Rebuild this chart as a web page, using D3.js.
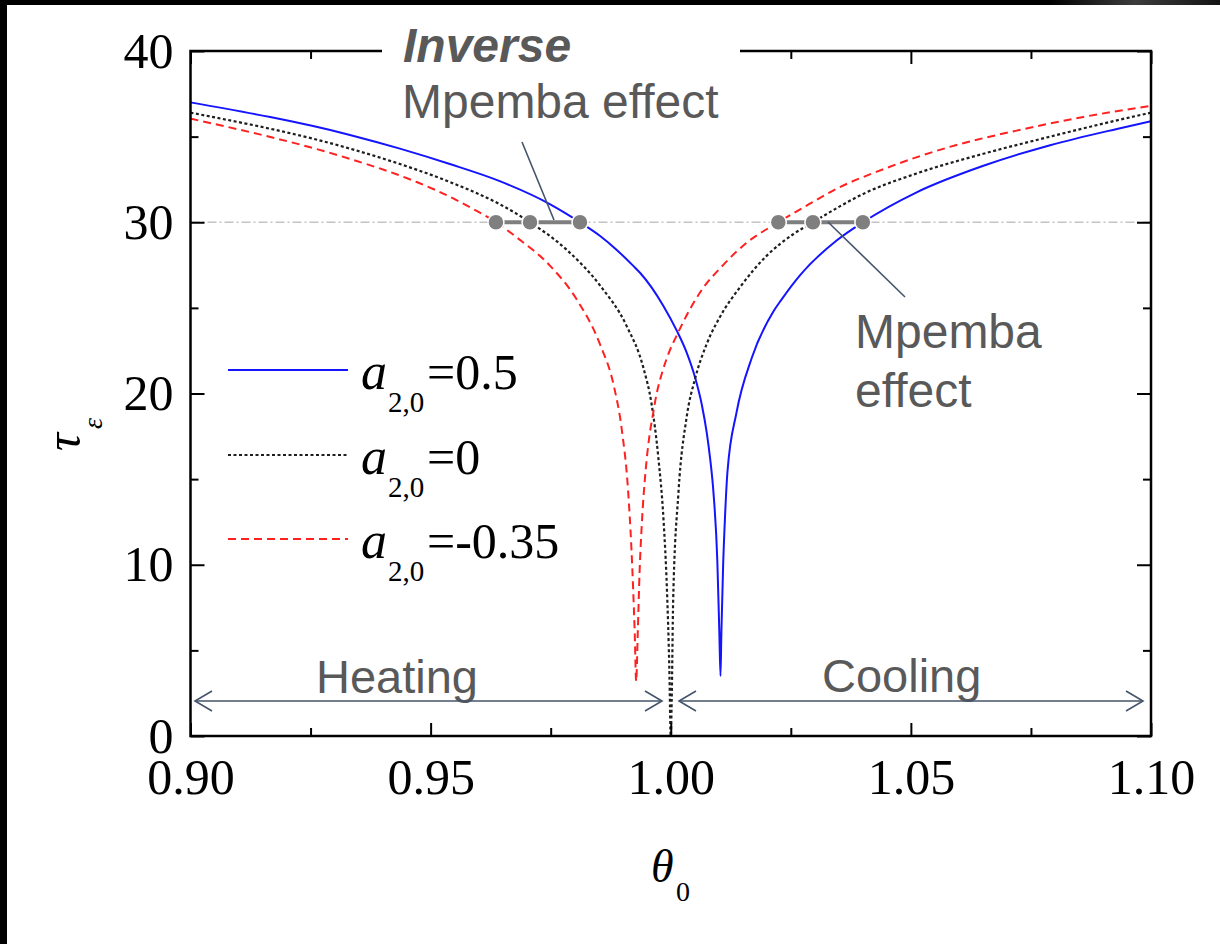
<!DOCTYPE html>
<html>
<head>
<meta charset="utf-8">
<script src="https://cdn.jsdelivr.net/npm/d3@7"></script>
<style>
  html, body { margin: 0; padding: 0; background: #fff; }
  svg { display: block; }
</style>
</head>
<body>
<svg id="chart" width="1220" height="944"></svg>
<script>
// ---------------- DATA ----------------
const xMajorTicks = [0.90, 0.95, 1.00, 1.05, 1.10];
const xMinorTicks = [0.925, 0.975, 1.025, 1.075];
const yMajorTicks = [0, 10, 20, 30, 40];
const yMinorTicks = [5, 15, 25, 35];

// a_{2,0} = 0.5 (blue, solid)
const thetaBlue = [0.9000, 0.9332, 0.9436, 0.9540, 0.9644, 0.9749, 0.9811, 0.9853, 0.9887, 0.9922, 0.9936,
  0.9960, 0.9985, 1.0012, 1.0033, 1.0051, 1.0065, 1.0075, 1.0082, 1.0089, 1.0097, 1.01012, 1.01036, 1.01054,
  1.0109, 1.0113, 1.0118, 1.0137, 1.0169, 1.0214, 1.0231, 1.0269, 1.0346, 1.0400, 1.0512, 1.0651, 1.0790,
  1.0929, 1.1000];
const tauBlue = [37.0, 35.1, 34.3, 33.4, 32.4, 31.05, 30.0, 29.2, 28.4, 27.45, 27.05,
  26.2, 25.1, 23.7, 22.4, 20.9, 19.3, 17.7, 16.2, 14.2, 10.2, 6.0, 3.5, 6.0,
  9.9, 12.8, 15.4, 18.9, 22.1, 24.8, 25.5, 26.9, 28.95, 30.0, 31.75, 33.3, 34.5,
  35.45, 35.9];

// a_{2,0} = 0 (black, dotted)
const thetaBlack = [0.9000, 0.9332, 0.9436, 0.9540, 0.9644, 0.9707, 0.9783, 0.9853, 0.9908, 0.9943, 0.9960,
  0.9974, 0.9985, 0.9992, 0.9997, 1.0000, 1.0002, 1.0005, 1.0016, 1.0033, 1.0051, 1.0075, 1.0103, 1.0144,
  1.0200, 1.0255, 1.0296, 1.0408, 1.0512, 1.0651, 1.0790, 1.0929, 1.1000];
const tauBlack = [36.4, 34.3, 33.4, 32.35, 31.05, 30.0, 28.4, 26.3, 23.95, 21.5, 19.4,
  16.3, 12.6, 8.6, 4.0, 0.0, 2.1, 7.9, 14.2, 18.6, 20.9, 22.9, 24.5, 26.2,
  28.05, 29.3, 30.0, 31.75, 32.85, 34.0, 35.0, 35.95, 36.4];

// a_{2,0} = -0.35 (red, dashed)
const thetaRed = [0.9000, 0.9332, 0.9429, 0.9471, 0.9550, 0.9590, 0.9636, 0.9680, 0.9749, 0.9804, 0.9853,
  0.9881, 0.9898, 0.9911, 0.9918, 0.9925, 0.9928, 0.99313, 0.9935, 0.9940, 0.9948, 0.9955, 0.9963, 0.9970,
  0.9984, 0.9991, 1.0016, 1.0061, 1.0109, 1.0158, 1.0224, 1.0297, 1.0338, 1.0443, 1.0581, 1.0720, 1.0859, 1.1000];
const tauRed = [36.05, 33.7, 32.8, 32.35, 31.35, 30.75, 30.0, 29.1, 27.45, 25.5, 22.85,
  20.5, 17.9, 14.4, 11.0, 6.0, 3.2, 6.0, 9.5, 12.5, 15.6, 17.4, 18.8, 19.9,
  21.4, 22.0, 23.6, 25.9, 27.5, 28.8, 30.0, 31.2, 31.85, 33.1, 34.4, 35.35, 36.15, 36.8];

// Mpemba crossing points at tau = 30
const mpembaTau = 30;
const heatingCross = [0.9636, 0.9707, 0.9811];
const coolingCross = [1.0224, 1.0296, 1.0400];

const legendLabels = ["=0.5", "=0", "=-0.35"];

// ---------------- CHART ----------------
const svg = d3.select("#chart");
const W = 1220, H = 944;
const L = 190.5, R = 1151, T = 51, B = 736;

const x = d3.scaleLinear().domain([0.90, 1.10]).range([L, R]);
const y = d3.scaleLinear().domain([0, 40]).range([B, T]);

const serif = "'Liberation Serif','Times New Roman',Times,serif";
const sans = "'Liberation Sans',Arial,Helvetica,sans-serif";
const annoGrey = "#595959";
const arrowCol = "#44546A";

svg.append("rect").attr("width", W).attr("height", H).attr("fill", "#fff");

// dark frame edges of the photo
const defs = svg.append("defs");
const g1 = defs.append("linearGradient").attr("id", "topbar").attr("x1", "0").attr("x2", "1");
g1.append("stop").attr("offset", "0").attr("stop-color", "#000");
g1.append("stop").attr("offset", "0.86").attr("stop-color", "#000");
g1.append("stop").attr("offset", "0.93").attr("stop-color", "#3c3c3c");
g1.append("stop").attr("offset", "1").attr("stop-color", "#141414");
svg.append("rect").attr("x", 0).attr("y", 0).attr("width", W).attr("height", 5).attr("fill", "url(#topbar)");
svg.append("rect").attr("x", 0).attr("y", 0).attr("width", 7).attr("height", H).attr("fill", "#000");

defs.append("clipPath").attr("id", "plotclip")
  .append("rect").attr("x", L).attr("y", T).attr("width", R - L).attr("height", B - T);

// reference line tau = 30
svg.append("line")
  .attr("x1", L).attr("x2", R).attr("y1", y(mpembaTau)).attr("y2", y(mpembaTau))
  .attr("stroke", "#c4c4c4").attr("stroke-width", 1.6)
  .attr("stroke-dasharray", "9,3,2,3");

// curves
const line = d3.line().x(d => x(d[0])).y(d => y(d[1])).curve(d3.curveMonotoneX);
const series = [
  { th: thetaBlue, tau: tauBlue, color: "#1414ff", dash: null, w: 2 },
  { th: thetaBlack, tau: tauBlack, color: "#1e1e1e", dash: "3,2.5", w: 2.2 },
  { th: thetaRed, tau: tauRed, color: "#ff2020", dash: "8,5", w: 2 }
];
const cg = svg.append("g").attr("clip-path", "url(#plotclip)");
series.forEach(s => {
  cg.append("path")
    .datum(s.th.map((t, i) => [t, s.tau[i]]))
    .attr("d", line)
    .attr("fill", "none")
    .attr("stroke", s.color)
    .attr("stroke-width", s.w)
    .attr("stroke-dasharray", s.dash);
});

// axes frame + ticks (inward)
function tickAxis(gen, scale, vals, size, tx, ty) {
  const a = gen(scale).tickValues(vals).tickSize(-size).tickFormat("");
  const g = svg.append("g").attr("transform", `translate(${tx},${ty})`).call(a);
  g.select(".domain").remove();
  g.selectAll(".tick line").attr("stroke", "#000").attr("stroke-width", 2);
  return g;
}
tickAxis(d3.axisBottom, x, xMajorTicks, 13, 0, B);
tickAxis(d3.axisBottom, x, xMinorTicks, 8, 0, B);
tickAxis(d3.axisTop, x, xMajorTicks, 13, 0, T);
tickAxis(d3.axisTop, x, xMinorTicks, 8, 0, T);
tickAxis(d3.axisLeft, y, yMajorTicks, 14, L, 0);
tickAxis(d3.axisLeft, y, yMinorTicks, 8, L, 0);
tickAxis(d3.axisRight, y, yMajorTicks, 14, R, 0);
tickAxis(d3.axisRight, y, yMinorTicks, 8, R, 0);

svg.append("rect").attr("x", L).attr("y", T).attr("width", R - L).attr("height", B - T)
  .attr("fill", "none").attr("stroke", "#000").attr("stroke-width", 2.5);

// tick labels
const xl = svg.append("g").attr("transform", `translate(0,${B})`)
  .call(d3.axisBottom(x).tickValues(xMajorTicks).tickSize(0).tickPadding(22).tickFormat(d3.format(".2f")));
xl.select(".domain").remove();
xl.selectAll("text").attr("font-family", serif).attr("font-size", 50).attr("fill", "#000");

const yl = svg.append("g").attr("transform", `translate(${L},0)`)
  .call(d3.axisLeft(y).tickValues(yMajorTicks).tickSize(0).tickPadding(17).tickFormat(d3.format("d")));
yl.select(".domain").remove();
yl.selectAll("text").attr("font-family", serif).attr("font-size", 50).attr("fill", "#000");

// axis titles
const yt = svg.append("text").attr("transform", "translate(80,451) rotate(-90)")
  .attr("font-family", serif).attr("fill", "#000");
yt.append("tspan").attr("font-style", "italic").attr("font-size", 50).text("τ");
yt.append("tspan").attr("font-style", "italic").attr("font-size", 28).attr("dy", 22).attr("dx", 4).text("ε");

const xt = svg.append("text").attr("font-family", serif).attr("fill", "#000");
xt.append("tspan").attr("x", 651).attr("y", 882).attr("font-style", "italic").attr("font-size", 46).text("θ");
xt.append("tspan").attr("x", 676).attr("y", 901).attr("font-size", 28).text("0");

// legend
const legY = [370, 455, 539];
series.forEach((s, i) => {
  svg.append("line").attr("x1", 228).attr("x2", 348).attr("y1", legY[i]).attr("y2", legY[i])
    .attr("stroke", s.color).attr("stroke-width", 1.8).attr("stroke-dasharray", s.dash);
  const t = svg.append("text").attr("font-family", serif).attr("fill", "#000");
  const base = legY[i] + 19;
  t.append("tspan").attr("x", 361).attr("y", base).attr("font-style", "italic").attr("font-size", 52).text("a");
  t.append("tspan").attr("x", 388).attr("y", base + 23).attr("font-size", 29).text("2,0");
  t.append("tspan").attr("x", 427).attr("y", base).attr("font-size", 50).text(legendLabels[i]);
});

// white box behind "Inverse" (covers top frame)
svg.append("rect").attr("x", 382).attr("y", 30).attr("width", 358).attr("height", 40).attr("fill", "#fff");

// Mpemba markers
function markers(vals) {
  const g = svg.append("g");
  g.append("line").attr("x1", x(vals[0])).attr("x2", x(vals[vals.length - 1]))
    .attr("y1", y(mpembaTau)).attr("y2", y(mpembaTau))
    .attr("stroke", "#7f7f7f").attr("stroke-width", 4);
  g.selectAll("circle").data(vals).join("circle")
    .attr("cx", d => x(d)).attr("cy", y(mpembaTau)).attr("r", 8)
    .attr("fill", "#7f7f7f").attr("stroke", "#fff").attr("stroke-width", 1.5);
}
markers(heatingCross);
markers(coolingCross);

// callout lines
svg.append("line").attr("x1", 522).attr("y1", 142).attr("x2", 554).attr("y2", 220)
  .attr("stroke", arrowCol).attr("stroke-width", 1.6);
svg.append("line").attr("x1", 828).attr("y1", 222).attr("x2", 905).attr("y2", 297)
  .attr("stroke", arrowCol).attr("stroke-width", 1.6);

// annotation texts
svg.append("text").attr("x", 403).attr("y", 62).attr("font-family", sans).attr("font-size", 48)
  .attr("font-weight", "bold").attr("font-style", "italic").attr("fill", annoGrey).text("Inverse");
svg.append("text").attr("x", 402).attr("y", 118).attr("font-family", sans).attr("font-size", 48)
  .attr("fill", annoGrey).text("Mpemba effect");
svg.append("text").attr("x", 855).attr("y", 348).attr("font-family", sans).attr("font-size", 48)
  .attr("fill", annoGrey).text("Mpemba");
svg.append("text").attr("x", 855).attr("y", 407).attr("font-family", sans).attr("font-size", 48)
  .attr("fill", annoGrey).text("effect");
svg.append("text").attr("x", 316).attr("y", 693).attr("font-family", sans).attr("font-size", 47)
  .attr("fill", annoGrey).text("Heating");
svg.append("text").attr("x", 822).attr("y", 692).attr("font-family", sans).attr("font-size", 47)
  .attr("fill", annoGrey).text("Cooling");

// heating / cooling arrows
function arrow(x1, x2, yy, startHead) {
  const g = svg.append("g").attr("stroke", arrowCol).attr("stroke-width", 1.6).attr("fill", "none");
  g.append("line").attr("x1", x1).attr("x2", x2).attr("y1", yy).attr("y2", yy);
  g.append("path").attr("d", `M${x2 - 17},${yy - 10} L${x2},${yy} L${x2 - 17},${yy + 10}`);
  if (startHead) g.append("path").attr("d", `M${x1 + 17},${yy - 10} L${x1},${yy} L${x1 + 17},${yy + 10}`);
}
arrow(195, 662, 701, true);
arrow(679, 1143, 701, true);
</script>
</body>
</html>
